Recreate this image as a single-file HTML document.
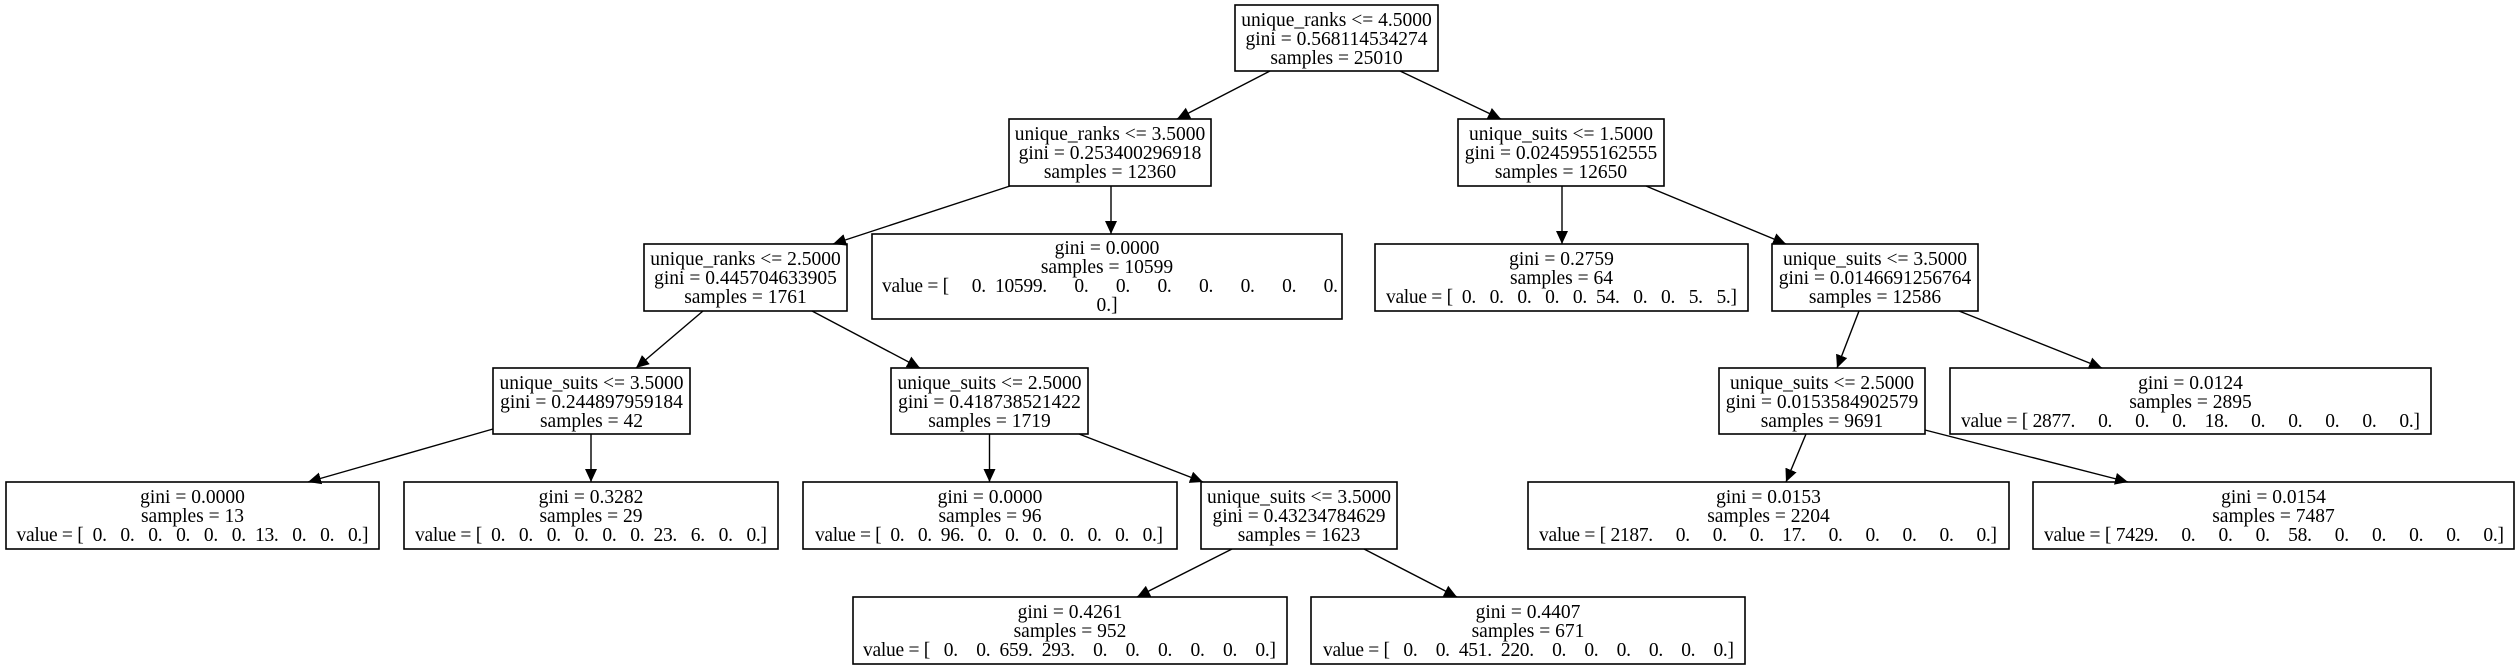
<!DOCTYPE html>
<html><head><meta charset="utf-8"><style>
html,body{margin:0;padding:0;background:#fff;width:2520px;height:669px;overflow:hidden}
svg text{font-family:"Liberation Serif",serif;font-size:19.5px;fill:#000;white-space:pre}
</style></head><body>
<svg width="2520" height="669" viewBox="0 0 2520 669" xmlns="http://www.w3.org/2000/svg">
<defs><marker id="a" markerWidth="13" markerHeight="12" refX="13" refY="6" orient="auto" markerUnits="userSpaceOnUse"><path d="M0,0 L13,6 L0,12 Z" fill="#000"/></marker></defs>
<g fill="none" stroke="#000" stroke-width="1.6">
<rect x="1235" y="5" width="203" height="66"/>
<rect x="1009" y="119" width="202" height="67"/>
<rect x="1458" y="119" width="206" height="67"/>
<rect x="644" y="244" width="203" height="67"/>
<rect x="872" y="234" width="470" height="85"/>
<rect x="1375" y="244" width="373" height="67"/>
<rect x="1772" y="244" width="206" height="67"/>
<rect x="493" y="368" width="197" height="66"/>
<rect x="891" y="368" width="197" height="66"/>
<rect x="1719" y="368" width="206" height="66"/>
<rect x="1950" y="368" width="481" height="66"/>
<rect x="6" y="482" width="373" height="67"/>
<rect x="404" y="482" width="374" height="67"/>
<rect x="803" y="482" width="374" height="67"/>
<rect x="1201" y="482" width="196" height="67"/>
<rect x="1528" y="482" width="481" height="67"/>
<rect x="2033" y="482" width="481" height="67"/>
<rect x="853" y="597" width="434" height="67"/>
<rect x="1311" y="597" width="434" height="67"/>
</g>
<g stroke="#000" stroke-width="1.4" marker-end="url(#a)">
<line x1="1270" y1="71" x2="1177" y2="119"/>
<line x1="1400" y1="71" x2="1501" y2="119"/>
<line x1="1010" y1="186" x2="833" y2="244"/>
<line x1="1111" y1="186" x2="1111" y2="234"/>
<line x1="703" y1="311" x2="636" y2="368"/>
<line x1="812" y1="311" x2="920" y2="368"/>
<line x1="493" y1="429" x2="308" y2="482"/>
<line x1="591" y1="434" x2="591" y2="482"/>
<line x1="989.5" y1="434" x2="989.5" y2="482"/>
<line x1="1079" y1="434" x2="1203" y2="482"/>
<line x1="1232" y1="549" x2="1137" y2="597"/>
<line x1="1364" y1="549" x2="1457" y2="597"/>
<line x1="1562" y1="186" x2="1562" y2="244"/>
<line x1="1646" y1="186" x2="1786" y2="244"/>
<line x1="1859" y1="311" x2="1837" y2="368"/>
<line x1="1959" y1="311" x2="2102" y2="368"/>
<line x1="1806" y1="434" x2="1786" y2="482"/>
<line x1="1925" y1="430" x2="2128" y2="482"/>
</g>
<g text-anchor="middle">
<text x="1336.5" y="26">unique_ranks &lt;= 4.5000</text><text x="1336.5" y="45">gini = 0.568114534274</text><text x="1336.5" y="64">samples = 25010</text>
<text x="1110" y="140">unique_ranks &lt;= 3.5000</text><text x="1110" y="159">gini = 0.253400296918</text><text x="1110" y="178">samples = 12360</text>
<text x="1561" y="140">unique_suits &lt;= 1.5000</text><text x="1561" y="159">gini = 0.0245955162555</text><text x="1561" y="178">samples = 12650</text>
<text x="745.5" y="265">unique_ranks &lt;= 2.5000</text><text x="745.5" y="284">gini = 0.445704633905</text><text x="745.5" y="303">samples = 1761</text>
<text x="1107" y="254">gini = 0.0000</text><text x="1107" y="273">samples = 10599</text><text x="1110" y="292" textLength="456" lengthAdjust="spacing">value = [     0.  10599.      0.      0.      0.      0.      0.      0.      0.</text><text x="1107" y="311">0.]</text>
<text x="1561.5" y="265">gini = 0.2759</text><text x="1561.5" y="284">samples = 64</text><text x="1561.5" y="303" textLength="351" lengthAdjust="spacing">value = [  0.   0.   0.   0.   0.  54.   0.   0.   5.   5.]</text>
<text x="1875" y="265">unique_suits &lt;= 3.5000</text><text x="1875" y="284">gini = 0.0146691256764</text><text x="1875" y="303">samples = 12586</text>
<text x="591.5" y="389">unique_suits &lt;= 3.5000</text><text x="591.5" y="408">gini = 0.244897959184</text><text x="591.5" y="427">samples = 42</text>
<text x="989.5" y="389">unique_suits &lt;= 2.5000</text><text x="989.5" y="408">gini = 0.418738521422</text><text x="989.5" y="427">samples = 1719</text>
<text x="1822" y="389">unique_suits &lt;= 2.5000</text><text x="1822" y="408">gini = 0.0153584902579</text><text x="1822" y="427">samples = 9691</text>
<text x="2190.5" y="389">gini = 0.0124</text><text x="2190.5" y="408">samples = 2895</text><text x="2190.5" y="427" textLength="459" lengthAdjust="spacing">value = [ 2877.     0.     0.     0.    18.     0.     0.     0.     0.     0.]</text>
<text x="192.5" y="503">gini = 0.0000</text><text x="192.5" y="522">samples = 13</text><text x="192.5" y="541" textLength="352" lengthAdjust="spacing">value = [  0.   0.   0.   0.   0.   0.  13.   0.   0.   0.]</text>
<text x="591" y="503">gini = 0.3282</text><text x="591" y="522">samples = 29</text><text x="591" y="541" textLength="352" lengthAdjust="spacing">value = [  0.   0.   0.   0.   0.   0.  23.   6.   0.   0.]</text>
<text x="990" y="503">gini = 0.0000</text><text x="990" y="522">samples = 96</text><text x="989" y="541" textLength="348" lengthAdjust="spacing">value = [  0.   0.  96.   0.   0.   0.   0.   0.   0.   0.]</text>
<text x="1299" y="503">unique_suits &lt;= 3.5000</text><text x="1299" y="522">gini = 0.43234784629</text><text x="1299" y="541">samples = 1623</text>
<text x="1768.5" y="503">gini = 0.0153</text><text x="1768.5" y="522">samples = 2204</text><text x="1768" y="541" textLength="458" lengthAdjust="spacing">value = [ 2187.     0.     0.     0.    17.     0.     0.     0.     0.     0.]</text>
<text x="2273.5" y="503">gini = 0.0154</text><text x="2273.5" y="522">samples = 7487</text><text x="2274" y="541" textLength="460" lengthAdjust="spacing">value = [ 7429.     0.     0.     0.    58.     0.     0.     0.     0.     0.]</text>
<text x="1070" y="618">gini = 0.4261</text><text x="1070" y="637">samples = 952</text><text x="1069.5" y="656" textLength="413" lengthAdjust="spacing">value = [   0.    0.  659.  293.    0.    0.    0.    0.    0.    0.]</text>
<text x="1528" y="618">gini = 0.4407</text><text x="1528" y="637">samples = 671</text><text x="1528.5" y="656" textLength="411" lengthAdjust="spacing">value = [   0.    0.  451.  220.    0.    0.    0.    0.    0.    0.]</text>
</g>
</svg>
</body></html>
